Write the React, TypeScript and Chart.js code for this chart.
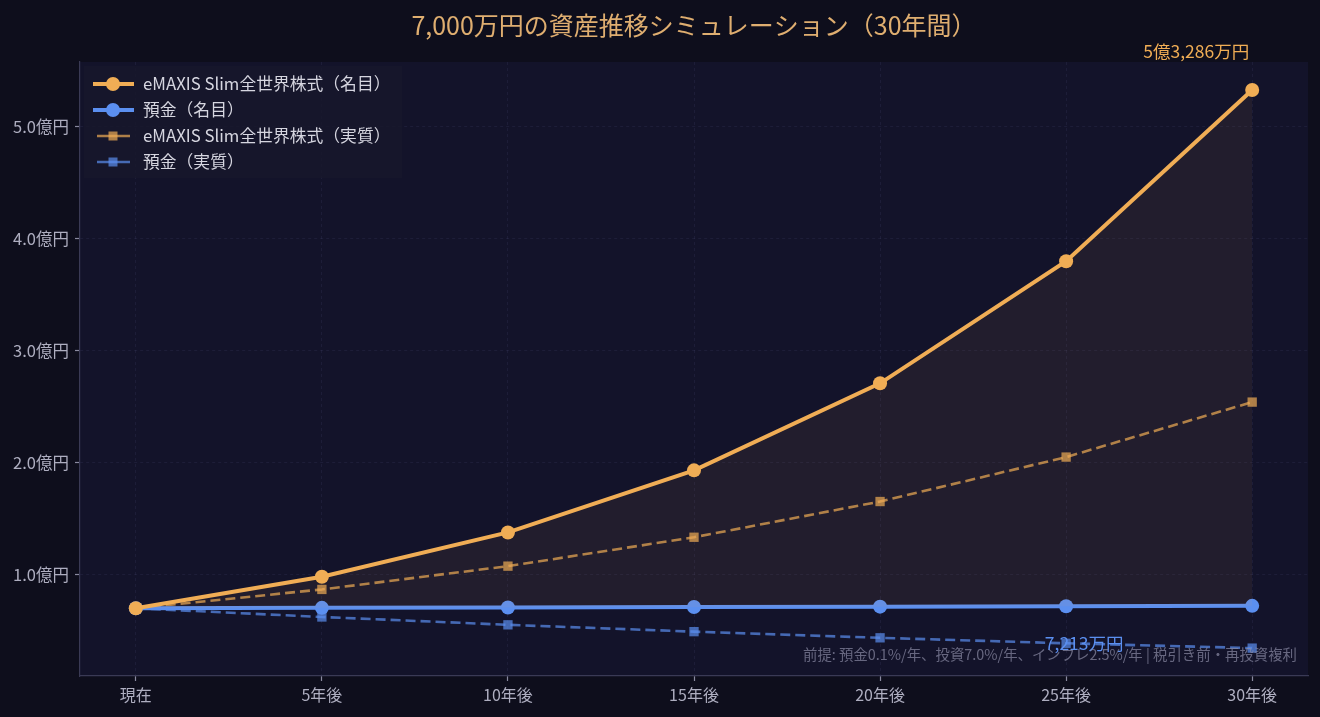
import { useEffect, useRef } from "react"
import { Chart, registerables } from "chart.js"

Chart.register(...registerables)

// values in 億円
const categories = ["現在", "5年後", "10年後", "15年後", "20年後", "25年後", "30年後"]
const stocksNominal = [0.7, 0.9818, 1.377, 1.9313, 2.7088, 3.7992, 5.3286]
const depositNominal = [0.7, 0.7035, 0.707, 0.7106, 0.7141, 0.7177, 0.7213]
const stocksReal = [0.7, 0.868, 1.076, 1.334, 1.653, 2.05, 2.541]
const depositReal = [0.7, 0.622, 0.552, 0.491, 0.436, 0.387, 0.344]
const yTicks = [1, 2, 3, 4, 5]

const TITLE = "7,000万円の資産推移シミュレーション（30年間）"
const STOCK_END_LABEL = "5億3,286万円"
const DEPOSIT_END_LABEL = "7,213万円"
const NOTE = "前提: 預金0.1%/年、投資7.0%/年、インフレ2.5%/年 | 税引き前・再投資複利"

const ORANGE = "#f0ad55"
const BLUE = "#5b8ff0"
const FONT = "'Noto Sans CJK JP', 'Noto Sans', sans-serif"

const legendItems = [
  { label: "eMAXIS Slim全世界株式（名目）", color: ORANGE, dashed: false, marker: "circle" },
  { label: "預金（名目）", color: BLUE, dashed: false, marker: "circle" },
  { label: "eMAXIS Slim全世界株式（実質）", color: "rgba(240,173,85,0.7)", dashed: true, marker: "rect" },
  { label: "預金（実質）", color: "rgba(91,143,240,0.7)", dashed: true, marker: "rect" },
]

const toPoints = (vals: number[]) => vals.map((y, i) => ({ x: i, y }))

const decorPlugin = {
  id: "decor",
  beforeDraw(chart: Chart) {
    const { ctx, chartArea: a, width, height } = chart
    ctx.save()
    ctx.fillStyle = "#0e0e1c"
    ctx.fillRect(0, 0, width, height)
    ctx.fillStyle = "#13132a"
    ctx.fillRect(a.left, a.top, a.right - a.left, a.bottom - a.top)
    ctx.restore()
  },
  afterDraw(chart: Chart) {
    const { ctx, chartArea: a, scales } = chart
    const x = scales.x
    const y = scales.y
    ctx.save()
    // title
    ctx.font = `25px ${FONT}`
    ctx.fillStyle = "#dfae70"
    ctx.textAlign = "center"
    ctx.textBaseline = "middle"
    ctx.fillText(TITLE, (a.left + a.right) / 2, 25)

    // end annotations
    const last = categories.length - 1
    ctx.font = `17.5px ${FONT}`
    ctx.fillStyle = ORANGE
    ctx.fillText(STOCK_END_LABEL, x.getPixelForValue(last) - 56, y.getPixelForValue(stocksNominal[last]) - 39)
    ctx.fillStyle = BLUE
    ctx.fillText(DEPOSIT_END_LABEL, x.getPixelForValue(last) - 168, y.getPixelForValue(depositNominal[last]) + 37)

    // note
    ctx.font = `14.4px ${FONT}`
    ctx.fillStyle = "rgba(140,140,165,0.7)"
    ctx.textAlign = "right"
    ctx.fillText(NOTE, a.right - 11, a.bottom - 21)

    // legend
    const lx = a.left + 4
    const ly = a.top + 4
    ctx.fillStyle = "rgba(24,24,44,0.85)"
    ctx.fillRect(lx, ly, 318, 112)
    ctx.font = `16.8px ${FONT}`
    ctx.textAlign = "left"
    legendItems.forEach((item, i) => {
      const cy = ly + 18 + i * 26
      ctx.strokeStyle = item.color
      ctx.fillStyle = item.color
      ctx.lineWidth = item.dashed ? 2.5 : 4
      ctx.beginPath()
      if (item.dashed) {
        ctx.moveTo(lx + 13, cy)
        ctx.lineTo(lx + 46, cy)
      } else {
        ctx.moveTo(lx + 9, cy)
        ctx.lineTo(lx + 50, cy)
      }
      ctx.stroke()
      if (item.marker === "circle") {
        ctx.beginPath()
        ctx.arc(lx + 29, cy, 7, 0, Math.PI * 2)
        ctx.fill()
      } else {
        ctx.fillRect(lx + 24.5, cy - 4.5, 9, 9)
      }
      ctx.fillStyle = "#d6d6e0"
      ctx.textBaseline = "middle"
      ctx.fillText(item.label, lx + 59, cy)
    })
    ctx.restore()
  },
}

export default function App() {
  const chartRef = useRef<HTMLCanvasElement>(null)
  const chartInstance = useRef<Chart | null>(null)

  useEffect(() => {
    document.body.style.margin = "0"
    document.body.style.background = "#0e0e1c"
    if (!chartRef.current) return
    if (chartInstance.current) chartInstance.current.destroy()
    const ctx = chartRef.current.getContext("2d")
    if (!ctx) return

    const tickColor = "#aeaec0"
    const gridColor = "rgba(120,120,170,0.11)"

    chartInstance.current = new Chart(ctx, {
      type: "line",
      data: {
        datasets: [
          {
            label: "eMAXIS Slim全世界株式（名目）",
            data: toPoints(stocksNominal),
            borderColor: ORANGE,
            borderWidth: 4,
            pointRadius: 7,
            pointBackgroundColor: ORANGE,
            pointBorderColor: ORANGE,
            pointBorderWidth: 0,
            backgroundColor: "rgba(240,173,85,0.07)",
            fill: { target: 1 },
          },
          {
            label: "預金（名目）",
            data: toPoints(depositNominal),
            borderColor: BLUE,
            borderWidth: 4,
            pointRadius: 7,
            pointBackgroundColor: BLUE,
            pointBorderColor: BLUE,
            pointBorderWidth: 0,
            fill: false,
          },
          {
            label: "eMAXIS Slim全世界株式（実質）",
            data: toPoints(stocksReal),
            borderColor: "rgba(240,173,85,0.7)",
            borderWidth: 2.6,
            borderDash: [10, 5],
            pointStyle: "rect",
            pointRadius: 6.6,
            pointBackgroundColor: "rgba(240,173,85,0.7)",
            pointBorderWidth: 0,
            fill: false,
          },
          {
            label: "預金（実質）",
            data: toPoints(depositReal),
            borderColor: "rgba(91,143,240,0.7)",
            borderWidth: 2.6,
            borderDash: [10, 5],
            pointStyle: "rect",
            pointRadius: 6.6,
            pointBackgroundColor: "rgba(91,143,240,0.7)",
            pointBorderWidth: 0,
            fill: false,
          },
        ],
      },
      options: {
        animation: false,
        responsive: false,
        devicePixelRatio: 1,
        layout: { padding: { left: 0, top: 62, right: 12, bottom: 0 } },
        plugins: {
          legend: { display: false },
          tooltip: { enabled: false },
          title: { display: false },
        },
        scales: {
          x: {
            type: "linear",
            min: -0.3,
            max: categories.length - 1 + 0.3,
            afterBuildTicks: (s: any) => {
              s.ticks = categories.map((_, i) => ({ value: i }))
            },
            afterFit: (s: any) => {
              s.height = 41
            },
            ticks: {
              color: tickColor,
              font: { family: FONT, size: 16 },
              padding: 4,
              maxRotation: 0,
              callback: (v: any) => categories[v as number] ?? "",
            },
            grid: {
              color: gridColor,
              lineWidth: 1,
              tickLength: 5,
              tickColor: "#8a8aa0",
              tickWidth: 1.2,
            },
            border: { display: true, color: "#3a3a55", width: 1.2, dash: [3, 3] },
          },
          y: {
            type: "linear",
            min: 0.095,
            max: 5.578,
            afterBuildTicks: (s: any) => {
              s.ticks = yTicks.map((v) => ({ value: v }))
            },
            afterFit: (s: any) => {
              s.width = 80
            },
            ticks: {
              color: tickColor,
              font: { family: FONT, size: 16.5 },
              padding: 6,
              callback: (v: any) => `${Number(v).toFixed(1)}億円`,
            },
            grid: {
              color: gridColor,
              lineWidth: 1,
              tickLength: 5,
              tickColor: "#8a8aa0",
              tickWidth: 1.2,
            },
            border: { display: true, color: "#3a3a55", width: 1.2, dash: [3, 3] },
          },
        },
      },
      plugins: [decorPlugin],
    })

    return () => {
      if (chartInstance.current) {
        chartInstance.current.destroy()
        chartInstance.current = null
      }
    }
  }, [])

  return (
    <div style={{ width: 1320, height: 717 }}>
      <canvas ref={chartRef} width={1320} height={717} />
    </div>
  )
}
